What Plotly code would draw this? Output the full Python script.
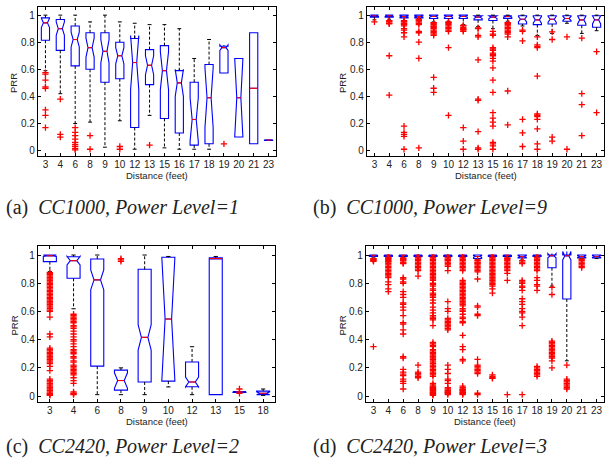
import plotly.graph_objects as go

# ---------------- data ----------------
# Panel (a) CC1000, Power Level=1
cats_a = [3, 4, 6, 8, 9, 10, 12, 13, 15, 16, 17, 18, 19, 20, 21, 23]
q1_a = [0.815, 0.74, 0.625, 0.60, 0.505, 0.53, 0.17, 0.487, 0.237, 0.13, 0.04, 0.05, 0.573, 0.10, 0.05, 0.075]
med_a = [0.943, 0.90, 0.82, 0.76, 0.733, 0.70, 0.65, 0.63, 0.59, 0.50, 0.23, 0.39, 0.76, 0.39, 0.46, 0.078]
q3_a = [0.98, 0.968, 0.92, 0.87, 0.87, 0.80, 0.827, 0.745, 0.775, 0.59, 0.505, 0.635, 0.77, 0.68, 0.87, 0.08]
lo_a = [0.59, 0.42, 0.20, 0.21, 0.025, 0.22, 0.01, 0.26, 0.02, 0.01, 0.01, 0.01, 0.573, 0.10, 0.05, 0.075]
hi_a = [1.0, 1.0, 1.0, 0.95, 1.0, 0.95, 0.94, 0.93, 0.93, 0.90, 0.68, 0.82, 0.77, 0.68, 0.87, 0.08]
notch_a = [0.035, 0.05, 0.055, 0.07, 0.085, 0.06, 0.2, 0.07, 0.14, 0.1, 0.16, 0.22, 0.02, 0.29, 0.0, 0.002]
plain_a = [21]
out_a = [
    [0.575, 0.565, 0.52, 0.47, 0.46, 0.30, 0.26, 0.17],
    [0.38, 0.12, 0.10],
    [0.17, 0.135, 0.11, 0.085, 0.06, 0.045, 0.03, 0.015, 0.005],
    [0.11, 0.01],
    [],
    [0.03, 0.01],
    [], [0.04], [], [], [], [],
    [0.05], [], [], [],
]

# Panel (b) CC1000, Power Level=9
cats_b = [3, 4, 6, 8, 9, 10, 12, 13, 15, 16, 17, 18, 19, 20, 21, 23]
q1_b = [0.985, 0.985, 0.98, 0.98, 0.975, 0.975, 0.975, 0.965, 0.96, 0.975, 0.935, 0.93, 0.935, 0.955, 0.925, 0.91]
med_b = [0.995, 0.995, 0.99, 0.99, 0.99, 0.99, 0.99, 0.985, 0.985, 0.99, 0.97, 0.965, 0.97, 0.975, 0.965, 0.965]
q3_b = [1.0, 1.0, 1.0, 1.0, 1.0, 1.0, 1.0, 0.995, 0.995, 0.995, 0.995, 0.995, 0.995, 0.995, 0.995, 0.995]
lo_b = [0.965, 0.97, 0.955, 0.975, 0.95, 0.955, 0.93, 0.915, 0.90, 0.955, 0.92, 0.85, 0.865, 0.94, 0.865, 0.885]
hi_b = [1.0] * 16
notch_b = [0.005, 0.005, 0.005, 0.005, 0.006, 0.006, 0.006, 0.01, 0.01, 0.005, 0.02, 0.025, 0.022, 0.015, 0.028, 0.03]
plain_b = []
out_b = [
    [0.95],
    [0.96, 0.955, 0.95, 0.94, 0.935, 0.70, 0.41],
    [0.96, 0.955, 0.95, 0.94, 0.935, 0.93, 0.92, 0.90, 0.89, 0.87, 0.84, 0.18, 0.135, 0.12, 0.105, 0.01],
    [0.97, 0.965, 0.96, 0.95, 0.94, 0.93, 0.88, 0.87, 0.80, 0.68, 0.02],
    [0.945, 0.94, 0.93, 0.92, 0.915, 0.91, 0.90, 0.89, 0.88, 0.87, 0.86, 0.85, 0.54, 0.46, 0.43],
    [0.95, 0.945, 0.94, 0.93, 0.92, 0.91, 0.90, 0.89, 0.88, 0.76, 0.26],
    [0.925, 0.92, 0.91, 0.90, 0.895, 0.89, 0.88, 0.17, 0.07, 0.01],
    [0.905, 0.90, 0.85, 0.84, 0.67, 0.38, 0.37, 0.14, 0.02, 0.01],
    [0.88, 0.86, 0.85, 0.76, 0.75, 0.74, 0.72, 0.71, 0.70, 0.68, 0.66, 0.61, 0.52, 0.43, 0.28, 0.24, 0.21, 0.18, 0.06, 0.05, 0.035, 0.01],
    [0.945, 0.94, 0.93, 0.92, 0.91, 0.90, 0.89, 0.88, 0.87, 0.86, 0.84, 0.44, 0.19],
    [0.89, 0.88, 0.81, 0.23, 0.13, 0.03],
    [0.84, 0.78, 0.77, 0.76, 0.55, 0.27, 0.26, 0.25, 0.23, 0.16, 0.05, 0.01],
    [0.877, 0.82, 0.10, 0.07],
    [0.84, 0.01],
    [0.83, 0.42, 0.34, 0.11],
    [0.73, 0.28],
]

# Panel (c) CC2420, Power Level=2
cats_c = [3, 4, 6, 8, 9, 10, 12, 13, 15, 18]
q1_c = [0.953, 0.835, 0.212, 0.042, 0.10, 0.106, 0.066, 0.01, 0.025, 0.01]
med_c = [0.995, 0.96, 0.824, 0.11, 0.416, 0.546, 0.10, 0.975, 0.03, 0.02]
q3_c = [1.0, 0.988, 0.972, 0.184, 0.899, 0.984, 0.242, 0.98, 0.032, 0.035]
lo_c = [0.882, 0.619, 0.01, 0.01, 0.01, 0.065, 0.01, 0.01, 0.025, 0.005]
hi_c = [1.0, 1.0, 1.0, 0.20, 1.0, 0.99, 0.35, 0.99, 0.032, 0.05]
notch_c = [0.005, 0.03, 0.07, 0.055, 0.09, 0.435, 0.035, 0.005, 0.002, 0.01]
plain_c = [13]
out_c = [
    [0.875, 0.87, 0.86, 0.85, 0.84, 0.83, 0.82, 0.81, 0.80, 0.79, 0.78, 0.77, 0.76, 0.75, 0.74, 0.73, 0.72,
     0.71, 0.70, 0.69, 0.68, 0.67, 0.66, 0.65, 0.64, 0.63, 0.62, 0.61, 0.60, 0.56, 0.44, 0.42, 0.34, 0.33,
     0.32, 0.31, 0.30, 0.29, 0.28, 0.27, 0.26, 0.25, 0.24, 0.23, 0.21, 0.18, 0.12, 0.11, 0.10, 0.09, 0.08,
     0.07, 0.06, 0.05, 0.04, 0.03, 0.02, 0.015, 0.01, 0.005],
    [0.58, 0.57, 0.56, 0.55, 0.54, 0.53, 0.52, 0.50, 0.49, 0.48, 0.46, 0.44, 0.42, 0.40, 0.39, 0.37, 0.35,
     0.33, 0.32, 0.31, 0.30, 0.28, 0.27, 0.25, 0.24, 0.22, 0.21, 0.20, 0.19, 0.18, 0.17, 0.16, 0.15, 0.13,
     0.11, 0.09, 0.03, 0.02, 0.015, 0.01],
    [],
    [0.975, 0.965, 0.955],
    [], [], [], [],
    [0.05, 0.02],
    [],
]

# Panel (d) CC2420, Power Level=3
cats_d = [3, 4, 6, 8, 9, 10, 12, 13, 15, 16, 17, 18, 19, 20, 21, 23]
q1_d = [0.99, 0.99, 0.99, 0.99, 0.99, 0.99, 0.99, 0.975, 0.99, 0.99, 0.98, 0.99, 0.91, 0.688, 0.98, 0.98]
med_d = [0.998, 0.998, 0.998, 0.998, 0.998, 0.998, 0.998, 0.99, 0.998, 0.998, 0.99, 0.998, 0.995, 0.995, 0.99, 0.99]
q3_d = [1.0] * 16
lo_d = [0.98, 0.99, 0.985, 0.99, 0.99, 0.99, 0.99, 0.97, 0.99, 0.985, 0.965, 0.99, 0.78, 0.25, 0.975, 0.975]
hi_d = [1.0] * 16
notch_d = [0.002, 0.002, 0.002, 0.002, 0.002, 0.002, 0.002, 0.006, 0.002, 0.002, 0.006, 0.002, 0.015, 0.03, 0.006, 0.006]
plain_d = []
out_d = [
    [0.975, 0.97, 0.965, 0.96, 0.955, 0.35],
    [0.985, 0.98, 0.975, 0.97, 0.96, 0.955, 0.95, 0.94, 0.93, 0.92, 0.91, 0.90, 0.89, 0.88, 0.87, 0.86, 0.85,
     0.84, 0.81, 0.79, 0.76, 0.74],
    [0.98, 0.975, 0.97, 0.965, 0.96, 0.95, 0.945, 0.94, 0.84, 0.83, 0.81, 0.80, 0.74, 0.72, 0.70, 0.66, 0.65,
     0.63, 0.61, 0.57, 0.52, 0.51, 0.47, 0.44, 0.28, 0.27, 0.19, 0.17, 0.155, 0.145, 0.12, 0.105, 0.09, 0.05],
    [0.985, 0.98, 0.97, 0.96, 0.95, 0.94, 0.93, 0.92, 0.91, 0.90, 0.89, 0.85, 0.22, 0.17, 0.16, 0.15, 0.14, 0.13],
    [0.985, 0.98, 0.97, 0.96, 0.95, 0.94, 0.93, 0.92, 0.91, 0.90, 0.89, 0.88, 0.87, 0.86, 0.85, 0.84, 0.83,
     0.82, 0.80, 0.79, 0.78, 0.76, 0.75, 0.73, 0.72, 0.71, 0.70, 0.68, 0.66, 0.63, 0.61, 0.59, 0.57, 0.56,
     0.55, 0.54, 0.50, 0.38, 0.37, 0.36, 0.35, 0.33, 0.32, 0.31, 0.30, 0.29, 0.28, 0.27, 0.26, 0.25, 0.24,
     0.23, 0.22, 0.21, 0.20, 0.19, 0.18, 0.17, 0.16, 0.15, 0.14, 0.09, 0.08, 0.07, 0.065, 0.06, 0.055, 0.05,
     0.045, 0.04, 0.035, 0.03, 0.025, 0.02, 0.015, 0.01, 0.005],
    [0.985, 0.98, 0.97, 0.965, 0.96, 0.95, 0.94, 0.93, 0.92, 0.89, 0.67, 0.62, 0.60, 0.55, 0.54, 0.53, 0.52,
     0.51, 0.50, 0.49, 0.48, 0.47, 0.22, 0.19, 0.16, 0.12, 0.11, 0.09, 0.06, 0.05, 0.04, 0.035, 0.03, 0.025,
     0.02, 0.01],
    [0.985, 0.98, 0.97, 0.96, 0.95, 0.94, 0.93, 0.92, 0.91, 0.90, 0.89, 0.82, 0.81, 0.80, 0.79, 0.78, 0.77,
     0.76, 0.75, 0.74, 0.73, 0.72, 0.71, 0.70, 0.69, 0.68, 0.67, 0.66, 0.65, 0.64, 0.62, 0.61, 0.60, 0.58,
     0.56, 0.55, 0.53, 0.52, 0.43, 0.35, 0.33, 0.26, 0.25, 0.07, 0.06, 0.05, 0.045, 0.04, 0.035, 0.03,
     0.025, 0.02, 0.015, 0.01],
    [0.965, 0.96, 0.95, 0.945, 0.94, 0.93, 0.92, 0.91, 0.90, 0.89, 0.88, 0.83, 0.64, 0.63, 0.58, 0.57, 0.26,
     0.22, 0.21, 0.20, 0.19, 0.18, 0.17, 0.16, 0.02, 0.01],
    [0.985, 0.98, 0.97, 0.96, 0.95, 0.94, 0.93, 0.92, 0.91, 0.90, 0.89, 0.88, 0.87, 0.86, 0.85, 0.84, 0.83,
     0.82, 0.81, 0.80, 0.79, 0.78, 0.76, 0.73, 0.15, 0.14, 0.13, 0.125],
    [0.98, 0.975, 0.97, 0.96, 0.95, 0.94, 0.93, 0.92, 0.91, 0.90, 0.89, 0.87, 0.82, 0.01],
    [0.96, 0.95, 0.94, 0.82, 0.81, 0.80, 0.78, 0.77, 0.75, 0.69, 0.67, 0.65, 0.62, 0.60, 0.59, 0.56, 0.50, 0.01],
    [0.985, 0.98, 0.97, 0.96, 0.95, 0.94, 0.93, 0.92, 0.91, 0.90, 0.89, 0.84, 0.82, 0.79, 0.78, 0.75, 0.21,
     0.20, 0.19, 0.18, 0.17, 0.16, 0.15, 0.14],
    [0.77, 0.72, 0.39, 0.38, 0.37, 0.36, 0.35, 0.34, 0.33, 0.32, 0.31, 0.30, 0.29, 0.28, 0.27, 0.25, 0.20],
    [0.22, 0.12, 0.11, 0.10, 0.09, 0.08, 0.07, 0.06, 0.05],
    [0.97, 0.96, 0.95, 0.94, 0.93, 0.92, 0.91],
    [],
]

captions = [
    ("(a)", "CC1000, Power Level=1"),
    ("(b)", "CC1000, Power Level=9"),
    ("(c)", "CC2420, Power Level=2"),
    ("(d)", "CC2420, Power Level=3"),
]
yticks = [0, 0.2, 0.4, 0.6, 0.8, 1]
yticktext = ["0", "0.2", "0.4", "0.6", "0.8", "1"]

# ---------------- figure ----------------
W, H = 616, 465
BOXW = 0.55
fig = go.Figure()

panels = [
    dict(cats=cats_a, q1=q1_a, med=med_a, q3=q3_a, lo=lo_a, hi=hi_a, notch=notch_a, plain=plain_a, out=out_a,
         px=(38, 276), py=(7, 156), yr=[-0.04, 1.06], cap=0.13),
    dict(cats=cats_b, q1=q1_b, med=med_b, q3=q3_b, lo=lo_b, hi=hi_b, notch=notch_b, plain=plain_b, out=out_b,
         px=(367, 604), py=(7, 156), yr=[-0.04, 1.06], cap=0.13),
    dict(cats=cats_c, q1=q1_c, med=med_c, q3=q3_c, lo=lo_c, hi=hi_c, notch=notch_c, plain=plain_c, out=out_c,
         px=(38, 275), py=(246, 402), yr=[-0.042, 1.064], cap=0.09),
    dict(cats=cats_d, q1=q1_d, med=med_d, q3=q3_d, lo=lo_d, hi=hi_d, notch=notch_d, plain=plain_d, out=out_d,
         px=(366, 604), py=(246, 402), yr=[-0.042, 1.064], cap=0.13),
]

FONT = "Liberation Sans, Arial, sans-serif"
annotations = []

for k, p in enumerate(panels):
    sfx = "" if k == 0 else str(k + 1)
    xa, ya = "x" + sfx, "y" + sfx
    n = len(p["cats"])
    pos = list(range(n))
    notched_idx = [i for i in range(n) if p["cats"][i] not in p["plain"]]
    plain_idx = [i for i in range(n) if p["cats"][i] in p["plain"]]

    for idxs, notched in ((notched_idx, True), (plain_idx, False)):
        if not idxs:
            continue
        kw = dict(notchspan=[p["notch"][i] for i in idxs], notchwidth=0.25) if notched else {}
        fig.add_trace(go.Box(
            x=[pos[i] for i in idxs],
            q1=[p["q1"][i] for i in idxs],
            median=[p["med"][i] for i in idxs],
            q3=[p["q3"][i] for i in idxs],
            lowerfence=[p["q1"][i] for i in idxs],
            upperfence=[p["q3"][i] for i in idxs],
            notched=notched, width=BOXW, whiskerwidth=0,
            line=dict(color="#0000ff", width=1.1), fillcolor="rgba(0,0,0,0)",
            boxpoints=False, hoverinfo="skip", showlegend=False,
            xaxis=xa, yaxis=ya, **kw))

    # whiskers (dashed) and caps
    wx, wy, cx, cy = [], [], [], []
    for i in range(n):
        if p["hi"][i] > p["q3"][i]:
            wx += [pos[i], pos[i], None]
            wy += [p["q3"][i], p["hi"][i], None]
            cx += [pos[i] - p["cap"], pos[i] + p["cap"], None]
            cy += [p["hi"][i], p["hi"][i], None]
        if p["lo"][i] < p["q1"][i]:
            wx += [pos[i], pos[i], None]
            wy += [p["q1"][i], p["lo"][i], None]
            cx += [pos[i] - p["cap"], pos[i] + p["cap"], None]
            cy += [p["lo"][i], p["lo"][i], None]
    fig.add_trace(go.Scatter(x=wx, y=wy, mode="lines", line=dict(color="black", width=1, dash="3px,2px"),
                             hoverinfo="skip", showlegend=False, xaxis=xa, yaxis=ya))
    fig.add_trace(go.Scatter(x=cx, y=cy, mode="lines", line=dict(color="black", width=1),
                             hoverinfo="skip", showlegend=False, xaxis=xa, yaxis=ya))

    # medians (red)
    mx, my = [], []
    for i in range(n):
        hw = BOXW / 2 if p["cats"][i] in p["plain"] else BOXW / 4
        mx += [pos[i] - hw, pos[i] + hw, None]
        my += [p["med"][i], p["med"][i], None]
    fig.add_trace(go.Scatter(x=mx, y=my, mode="lines", line=dict(color="red", width=1.1),
                             hoverinfo="skip", showlegend=False, xaxis=xa, yaxis=ya))

    # outliers
    ox, oy = [], []
    for i in range(n):
        for v in p["out"][i]:
            ox.append(pos[i])
            oy.append(v)
    fig.add_trace(go.Scatter(x=ox, y=oy, mode="markers",
                             marker=dict(symbol="cross-thin", size=4.5, line=dict(color="red", width=1.3)),
                             hoverinfo="skip", showlegend=False, xaxis=xa, yaxis=ya))

    x0, x1 = p["px"]
    yt, yb = p["py"]
    axis_common = dict(showline=True, linecolor="black", linewidth=1.2, mirror="ticks", ticks="inside",
                       ticklen=3, tickcolor="black", showgrid=False, zeroline=False,
                       tickfont=dict(family=FONT, size=10, color="#222"))
    fig.layout["xaxis" + sfx] = dict(domain=[x0 / W, x1 / W], range=[-0.5, n - 0.5], anchor=ya,
                                     tickvals=pos, ticktext=[str(c) for c in p["cats"]],
                                     ticklabelstandoff=-1, **axis_common)
    fig.layout["yaxis" + sfx] = dict(domain=[1 - yb / H, 1 - yt / H], range=p["yr"], anchor=xa,
                                     tickvals=yticks, ticktext=yticktext, **axis_common)

    # axis titles
    annotations.append(dict(text="Distance (feet)", x=(x0 + x1) / 2 / W, y=1 - (yb + 19.5) / H,
                            xref="paper", yref="paper", showarrow=False, xanchor="center", yanchor="middle",
                            font=dict(family=FONT, size=9.5, color="#222")))
    annotations.append(dict(text="PRR", x=(x0 - 24.5) / W, y=1 - ((yt + yb) / 2 + 2) / H,
                            xref="paper", yref="paper", showarrow=False, textangle=-90,
                            xanchor="center", yanchor="middle",
                            font=dict(family=FONT, size=9.5, color="#222")))
    # caption
    lab, txt = captions[k]
    cap_x = 4 if k % 2 == 0 else 311
    cap_y = 208 if k < 2 else 446
    annotations.append(dict(text=lab + "&nbsp;&nbsp;<i>" + txt + "</i>", x=cap_x / W, y=1 - cap_y / H,
                            xref="paper", yref="paper", showarrow=False, xanchor="left", yanchor="middle",
                            font=dict(family="Liberation Serif, Times New Roman, serif", size=20, color="#222")))

fig.update_layout(width=W, height=H, autosize=False, margin=dict(l=0, r=0, t=0, b=0),
                  paper_bgcolor="white", plot_bgcolor="white", annotations=annotations,
                  boxmode="overlay", showlegend=False)

fig.write_html("out.html", config={"displayModeBar": False},
               post_script="document.body.style.margin='0';document.body.style.overflow='hidden';")
